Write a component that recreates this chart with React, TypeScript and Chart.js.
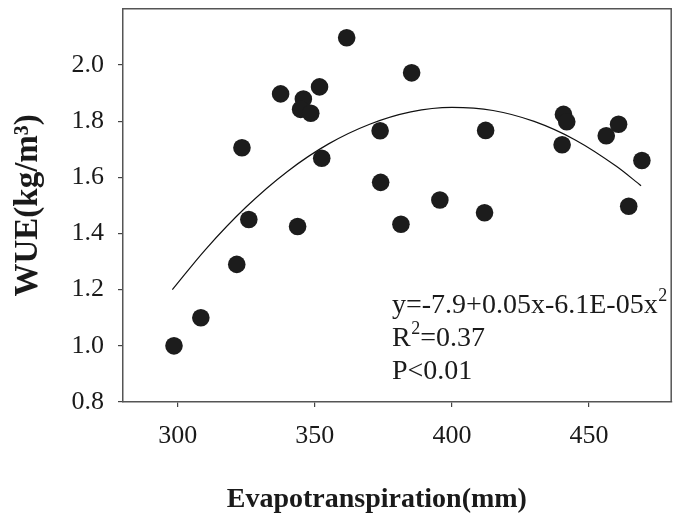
import React, { useEffect, useRef } from "react";
import { Chart, registerables } from "chart.js";

Chart.register(...registerables);

// Observed points (Evapotranspiration mm, WUE kg/m3)
const etValues = [298.6, 308.4, 321.5, 325.9, 323.4, 343.7, 337.5, 345.8, 344.8, 348.5, 351.7, 361.6, 352.5, 373.8, 374.0, 385.3, 381.4, 395.6, 411.9, 412.3, 440.7, 441.9, 440.2, 456.3, 460.8, 469.3, 464.5];
const wueValues = [1.0, 1.1, 1.29, 1.45, 1.705, 1.425, 1.897, 1.879, 1.842, 1.828, 1.922, 2.097, 1.668, 1.766, 1.582, 1.972, 1.433, 1.519, 1.474, 1.767, 1.824, 1.798, 1.716, 1.748, 1.789, 1.66, 1.497];

// Fitted curve
const fitX = [298, 310, 325, 340, 355, 370, 385, 400, 415, 430, 445, 460, 469];
const fitY = [1.2, 1.342, 1.495, 1.621, 1.719, 1.789, 1.833, 1.849, 1.838, 1.799, 1.733, 1.639, 1.57];

const xTicks = [300, 350, 400, 450];
const yTicks = [0.8, 1.0, 1.2, 1.4, 1.6, 1.8, 2.0];

const xTitle = "Evapotranspiration(mm)";
const yTitle = "WUE(kg/m³)";
const eqLines = [
  { text: "y=-7.9+0.05x-6.1E-05x", sup: "2", after: "" },
  { text: "R", sup: "2", after: "=0.37" },
  { text: "P<0.01", sup: "", after: "" },
];

const SERIF = '"Liberation Serif", "Times New Roman", serif';

export default function App() {
  const ref = useRef<HTMLCanvasElement | null>(null);

  useEffect(() => {
    document.body.style.margin = "0";
    const canvas = ref.current!;
    const annot = {
      id: "annot",
      afterDraw(chart: any) {
        const { ctx, chartArea } = chart;
        ctx.save();
        // top and right frame lines
        ctx.strokeStyle = "#555";
        ctx.lineWidth = 1.5;
        ctx.beginPath();
        ctx.moveTo(chartArea.left, chartArea.top);
        ctx.lineTo(chartArea.right, chartArea.top);
        ctx.lineTo(chartArea.right, chartArea.bottom);
        ctx.stroke();

        ctx.fillStyle = "#1a1a1a";
        ctx.textBaseline = "alphabetic";
        ctx.textAlign = "left";
        const x0 = chartArea.left + 269;
        const baselines = [chartArea.top + 304, chartArea.top + 337, chartArea.top + 370];
        eqLines.forEach((ln, i) => {
          const y = baselines[i];
          ctx.font = `28px ${SERIF}`;
          ctx.fillText(ln.text, x0, y);
          let x = x0 + ctx.measureText(ln.text).width;
          if (ln.sup) {
            ctx.font = `18px ${SERIF}`;
            ctx.fillText(ln.sup, x + 0.5, y - 12);
            x += ctx.measureText(ln.sup).width + 0.5;
          }
          if (ln.after) {
            ctx.font = `28px ${SERIF}`;
            ctx.fillText(ln.after, x, y);
          }
        });

        // x axis title
        ctx.font = `bold 28px ${SERIF}`;
        ctx.textAlign = "center";
        ctx.fillText(xTitle, chartArea.left + chartArea.width * 0.463, 507);
        ctx.restore();
      },
    };

    const chart = new Chart(canvas, {
      type: "scatter",
      data: {
        datasets: [
          {
            type: "scatter",
            label: "WUE",
            data: etValues.map((x, i) => ({ x, y: wueValues[i] })),
            backgroundColor: "#1c1c1c",
            borderWidth: 0,
            pointRadius: 8.8,
            order: 1,
          },
          {
            type: "line",
            label: "fit",
            data: fitX.map((x, i) => ({ x, y: fitY[i] })),
            borderColor: "#111",
            borderWidth: 1.2,
            pointRadius: 0,
            fill: false,
            cubicInterpolationMode: "monotone",
            order: 2,
          } as any,
        ],
      },
      options: {
        animation: false,
        responsive: false,
        devicePixelRatio: 1,
        layout: { padding: { top: 6, right: 4, left: 0, bottom: 0 } },
        plugins: { legend: { display: false }, tooltip: { enabled: false } },
        scales: {
          x: {
            type: "linear",
            min: 280,
            max: 480,
            afterFit: (s: any) => {
              s.height = 121;
              s.paddingLeft = 0;
              s.paddingRight = 0;
            },
            afterBuildTicks: (s: any) => {
              s.ticks = xTicks.map((v) => ({ value: v }));
            },
            ticks: {
              color: "#1a1a1a",
              font: { family: SERIF, size: 26 },
              padding: 14,
              callback: (v: any) => String(v),
            },
            grid: {
              drawOnChartArea: false,
              drawTicks: true,
              tickLength: 5,
              color: "#444",
              lineWidth: 1.2,
            },
            border: { display: true, color: "#555", width: 1.5 },
          },
          y: {
            type: "linear",
            min: 0.8,
            max: 2.2,
            afterFit: (s: any) => {
              s.width = 123;
              s.paddingTop = 0;
              s.paddingBottom = 0;
            },
            afterBuildTicks: (s: any) => {
              s.ticks = yTicks.map((v) => ({ value: v }));
            },
            ticks: {
              color: "#1a1a1a",
              font: { family: SERIF, size: 26 },
              padding: 14,
              callback: (v: any) => Number(v).toFixed(1),
            },
            grid: {
              drawOnChartArea: false,
              drawTicks: true,
              tickLength: 5,
              color: "#444",
              lineWidth: 1.2,
            },
            border: { display: true, color: "#555", width: 1.5 },
            title: {
              display: true,
              text: yTitle,
              color: "#1a1a1a",
              font: { family: SERIF, size: 33, weight: "bold" },
              padding: { top: 9, bottom: 0 },
            },
          },
        },
      },
      plugins: [annot],
    });
    return () => chart.destroy();
  }, []);

  return (
    <div style={{ width: 680, height: 523, background: "#fff" }}>
      <canvas ref={ref} width={680} height={523} style={{ display: "block" }} />
    </div>
  );
}
